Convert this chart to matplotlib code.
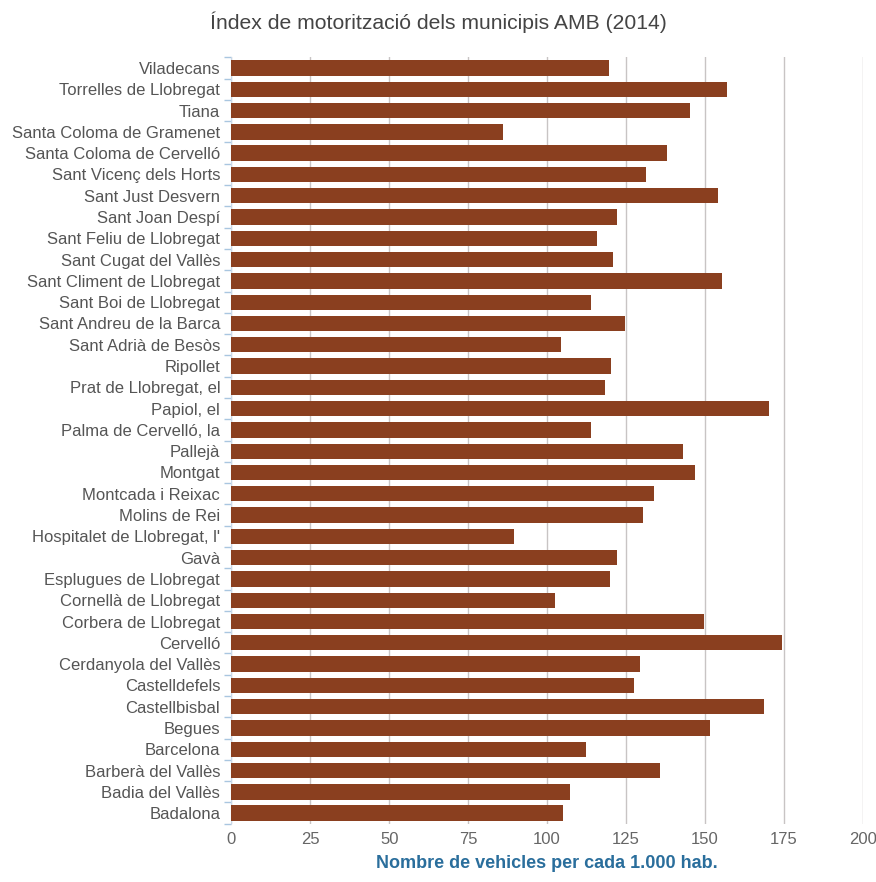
import matplotlib.pyplot as plt
import numpy as np

plt.rcParams['font.family'] = ['Liberation Sans', 'DejaVu Sans']

# municipis (de dalt a baix, com a l'original)
municipis = [
    "Viladecans", "Torrelles de Llobregat", "Tiana", "Santa Coloma de Gramenet",
    "Santa Coloma de Cervelló", "Sant Vicenç dels Horts", "Sant Just Desvern",
    "Sant Joan Despí", "Sant Feliu de Llobregat", "Sant Cugat del Vallès",
    "Sant Climent de Llobregat", "Sant Boi de Llobregat", "Sant Andreu de la Barca",
    "Sant Adrià de Besòs", "Ripollet", "Prat de Llobregat, el", "Papiol, el",
    "Palma de Cervelló, la", "Pallejà", "Montgat", "Montcada i Reixac",
    "Molins de Rei", "Hospitalet de Llobregat, l'", "Gavà", "Esplugues de Llobregat",
    "Cornellà de Llobregat", "Corbera de Llobregat", "Cervelló",
    "Cerdanyola del Vallès", "Castelldefels", "Castellbisbal", "Begues",
    "Barcelona", "Barberà del Vallès", "Badia del Vallès", "Badalona",
]

vehicles = [
    119.5, 156.9, 145.2, 86.2, 137.9, 131.2, 154.0, 122.3, 115.7, 120.8,
    155.3, 113.8, 124.6, 104.3, 120.1, 118.5, 170.2, 113.8, 143.0, 146.8,
    133.8, 130.3, 89.4, 122.3, 119.8, 102.4, 149.6, 174.3, 129.3, 127.4,
    168.6, 151.5, 112.2, 135.7, 107.4, 105.2,
]

xticks = [0, 25, 50, 75, 100, 125, 150, 175, 200]

fig = plt.figure(figsize=(8.76, 8.82), dpi=100)
ax = fig.add_axes([0.264, 0.066, 0.721, 0.869])

y = np.arange(len(municipis))
ax.barh(y, vehicles, height=0.72, color='#8a3f1f', zorder=3)

ax.set_ylim(len(municipis) - 0.5, -0.5)
ax.set_xlim(0, 200)
ax.set_yticks(y)
ax.set_yticklabels(municipis, fontsize=12, color='#555555')
ax.set_yticks(np.arange(len(municipis) + 1) - 0.5, minor=True)
ax.tick_params(axis='y', which='major', length=0, pad=8)
ax.tick_params(axis='y', which='minor', length=5, color='#a9c6e0', width=1)

ax.set_xticks(xticks)
ax.set_xticklabels([str(t) for t in xticks], fontsize=12, color='#666666')
ax.tick_params(axis='x', length=0, pad=6)
ax.grid(axis='x', color='#c8c4c4', linewidth=1, zorder=0)

for s in ['top', 'right', 'bottom']:
    ax.spines[s].set_visible(False)
ax.spines['left'].set_color('#c8d8e8')

ax.set_xlabel("Nombre de vehicles per cada 1.000 hab.", fontsize=13,
              fontweight='bold', color='#2a6e9c', labelpad=6)
fig.suptitle("Índex de motorització dels municipis AMB (2014)", fontsize=15.2,
             color='#444444', y=0.987)

fig.savefig("out.png", dpi=100, facecolor='white')
